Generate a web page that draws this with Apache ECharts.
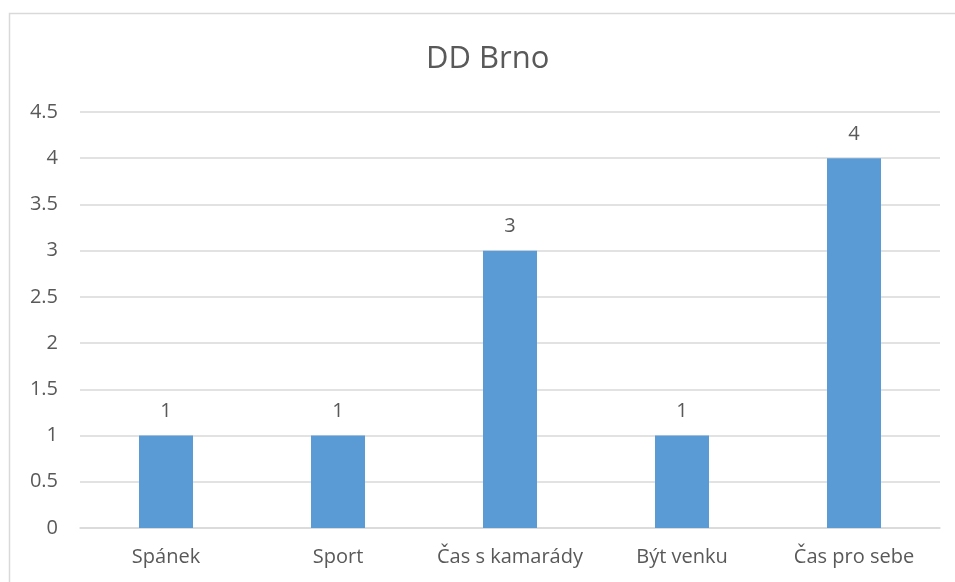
<!DOCTYPE html>
<html>
<head>
<meta charset="utf-8">
<script src="https://cdn.jsdelivr.net/npm/echarts@6/dist/echarts.min.js"></script>
<style>
  html, body { margin: 0; padding: 0; background: #fff; }
  #main { width: 955px; height: 582px; }
</style>
</head>
<body>
<div id="main"></div>
<script>
const categories = ["Spánek", "Sport", "Čas s kamarády", "Být venku", "Čas pro sebe"];
const values = [1, 1, 3, 1, 4];
const chartTitle = "DD Brno";

var myChart = echarts.init(document.getElementById("main"));
var textColor = "#595959";
var font = "Open Sans";

myChart.setOption({
  animation: false,
  graphic: [{
    type: "rect",
    shape: { x: 9.5, y: 13.5, width: 980, height: 620 },
    style: { fill: "none", stroke: "#d9d9d9", lineWidth: 1.5 }
  }],
  title: {
    text: chartTitle,
    left: 426,
    top: 44,
    padding: 0,
    textStyle: { fontFamily: font, fontSize: 31, fontWeight: "normal", color: textColor }
  },
  grid: { left: 80, right: 15, top: 112, bottom: 54 },
  xAxis: {
    type: "category",
    data: categories,
    axisLine: { lineStyle: { color: "#d9d9d9", width: 1.5 } },
    axisTick: { show: false },
    axisLabel: { fontFamily: font, fontSize: 20, color: textColor, margin: 19, interval: 0 }
  },
  yAxis: {
    type: "value",
    min: 0,
    max: 4.5,
    interval: 0.5,
    axisLine: { show: false },
    axisTick: { show: false },
    splitLine: { lineStyle: { color: "#d9d9d9", width: 1.5 } },
    axisLabel: { fontFamily: font, fontSize: 20, color: textColor, margin: 22 }
  },
  series: [{
    type: "bar",
    data: values,
    barWidth: 54,
    itemStyle: { color: "#5b9bd5" },
    label: {
      show: true,
      position: "top",
      distance: 14,
      fontFamily: font,
      fontSize: 20,
      color: textColor
    }
  }]
});
</script>
</body>
</html>
